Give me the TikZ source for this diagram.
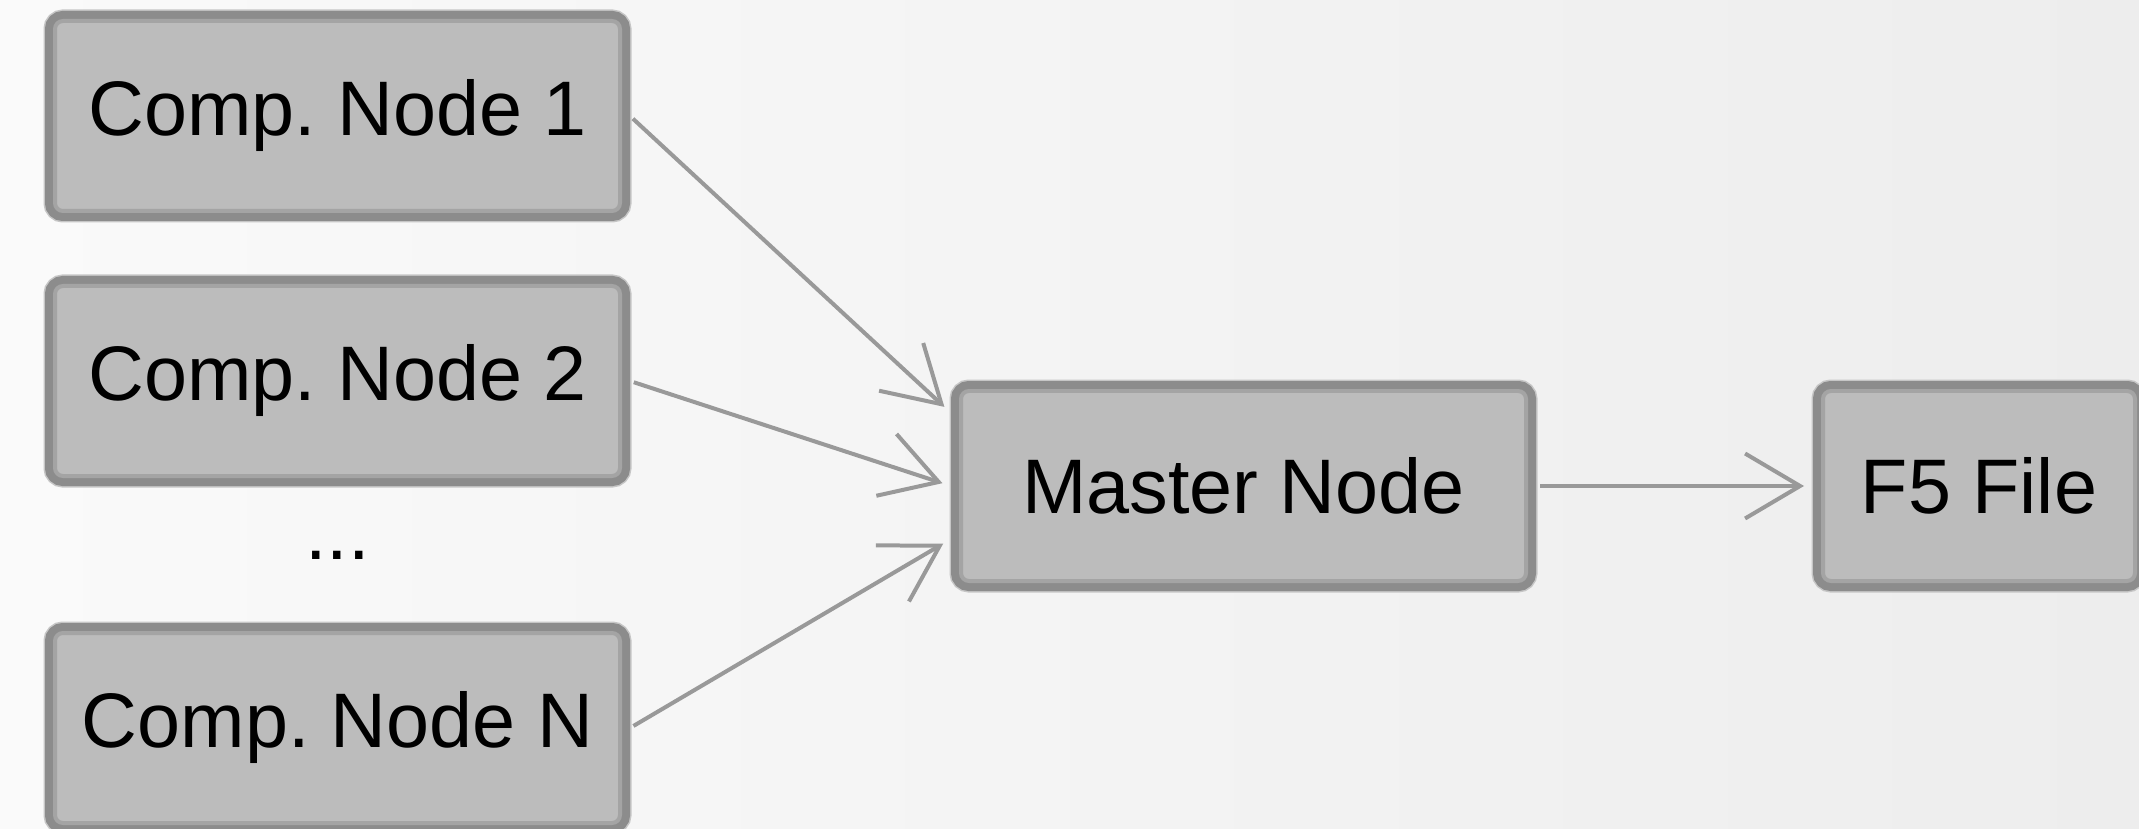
\documentclass[tikz,border=0pt]{standalone}
\usepackage{fontspec}
\setmainfont{Liberation Sans}
\usetikzlibrary{arrows.meta}
\frenchspacing

\definecolor{bgleft}{HTML}{FAFAFA}
\definecolor{bgright}{HTML}{EDEDED}
\definecolor{boxfill}{HTML}{BCBCBC}
\definecolor{boxedge}{HTML}{8C8C8C}
\definecolor{boxring}{HTML}{A4A4A4}
\definecolor{boxhalo}{HTML}{C6C6C6}
\definecolor{linkgray}{HTML}{999999}

\tikzset{
    compbox/.style={
        preaction={draw=boxhalo, line width=0.23cm},
        preaction={draw=boxedge, line width=0.2cm},
        draw=boxring, line width=0.04cm, fill=boxfill,
        rounded corners=0.08cm,
        minimum width=5.65cm, minimum height=1.9cm,
        outer sep=0.1cm, inner sep=0pt,
        font=\fontsize{22}{26}\selectfont
    },
    link/.style={
        draw=linkgray, line width=0.04cm,
        -{Straight Barb[length=0.55cm, width=0.65cm]},
        shorten <=0.04cm, shorten >=0.09cm
    }
}

\begin{document}
\begin{tikzpicture}
    \useasboundingbox (0,0) rectangle (21.39,8.28);
    \shade[left color=bgleft, right color=bgright] (0,0) rectangle (21.39,8.28);

    % compute nodes
    \node[compbox] (comp1) at (3.375,7.12) {Comp. Node 1};
    \node[compbox] (comp2) at (3.375,4.47) {Comp. Node 2};
    \node[anchor=base, font=\fontsize{22}{26}\selectfont] (dots) at (3.375,2.69) {...};
    \node[compbox] (compN) at (3.375,1.00) {Comp. Node N};

    \node[compbox] (master) at (12.435,3.42) {Master Node};
    \node[compbox, minimum width=3.12cm] (file) at (19.79,3.42) {F5 File};

    \draw[link] (comp1.east) -- ([yshift=0.73cm]master.west);
    \draw[link] (comp2.east) -- (master.west);
    \draw[link] (compN.east) -- ([yshift=-0.53cm]master.west);
    \draw[link] (master.east) -- (file.west);

\end{tikzpicture}
\end{document}
